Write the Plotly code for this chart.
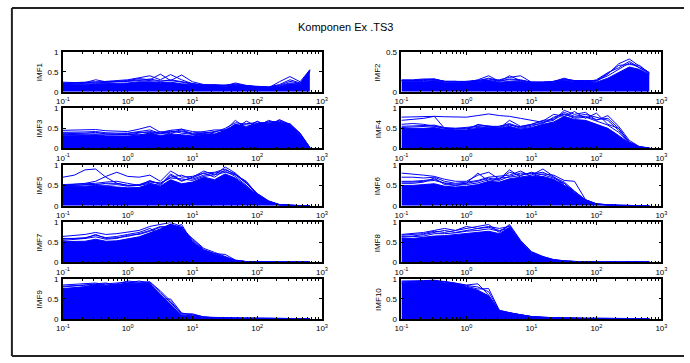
import plotly.graph_objects as go

# ---------------- data ----------------
freqs = [0.1, 0.15, 0.22, 0.32, 0.46, 0.68, 1.0, 1.5, 2.2, 3.2, 4.6, 6.8,
         10, 15, 22, 32, 46, 68, 100, 150, 220, 320, 460, 650]

x_tick_vals = [0.1, 1, 10, 100, 1000]
x_tick_text = ["10<sup>-1</sup>", "10<sup>0</sup>", "10<sup>1</sup>", "10<sup>2</sup>", "10<sup>3</sup>"]

imf_names = ["IMF1", "IMF2", "IMF3", "IMF4", "IMF5", "IMF6", "IMF7", "IMF8", "IMF9", "IMF10"]
y_max = [1, 0.5, 1, 1, 1, 1, 1, 1, 1, 1]

imf1_fill = [0.18, 0.18, 0.19, 0.2, 0.2, 0.21, 0.22, 0.25, 0.25, 0.23, 0.24, 0.2, 0.18, 0.15, 0.15, 0.14, 0.16, 0.14, 0.12, 0.11, 0.13, 0.2, 0.18, 0.55]
imf1_lines = [
    [0.22, 0.22, 0.23, 0.3, 0.25, 0.26, 0.28, 0.33, 0.3, 0.44, 0.28, 0.42, 0.25, 0.18, 0.16, 0.15, 0.22, 0.16, 0.12, 0.1, 0.25, 0.38, 0.25, 0.55],
    [0.2, 0.21, 0.22, 0.24, 0.26, 0.28, 0.3, 0.35, 0.4, 0.3, 0.43, 0.3, 0.2, 0.17, 0.16, 0.17, 0.18, 0.14, 0.13, 0.12, 0.18, 0.3, 0.22, 0.5],
    [0.24, 0.23, 0.24, 0.25, 0.24, 0.25, 0.27, 0.3, 0.28, 0.26, 0.3, 0.25, 0.2, 0.16, 0.18, 0.15, 0.2, 0.15, 0.12, 0.11, 0.15, 0.22, 0.2, 0.52],
    [0.21, 0.2, 0.21, 0.22, 0.23, 0.24, 0.26, 0.28, 0.32, 0.27, 0.28, 0.24, 0.19, 0.17, 0.16, 0.16, 0.17, 0.15, 0.13, 0.12, 0.16, 0.26, 0.21, 0.53],
]

imf2_fill = [0.13, 0.13, 0.13, 0.14, 0.12, 0.12, 0.12, 0.13, 0.14, 0.12, 0.13, 0.13, 0.11, 0.11, 0.12, 0.14, 0.13, 0.13, 0.12, 0.17, 0.24, 0.31, 0.28, 0.22]
imf2_lines = [
    [0.15, 0.15, 0.16, 0.16, 0.13, 0.13, 0.12, 0.15, 0.2, 0.13, 0.2, 0.14, 0.12, 0.12, 0.13, 0.17, 0.13, 0.14, 0.13, 0.22, 0.35, 0.41, 0.32, 0.24],
    [0.14, 0.14, 0.15, 0.15, 0.13, 0.12, 0.13, 0.14, 0.15, 0.15, 0.18, 0.2, 0.12, 0.11, 0.12, 0.15, 0.14, 0.12, 0.15, 0.24, 0.3, 0.38, 0.3, 0.23],
    [0.14, 0.14, 0.14, 0.15, 0.13, 0.13, 0.13, 0.14, 0.16, 0.13, 0.16, 0.15, 0.12, 0.12, 0.13, 0.16, 0.14, 0.14, 0.14, 0.2, 0.28, 0.36, 0.3, 0.24],
    [0.14, 0.14, 0.15, 0.16, 0.13, 0.13, 0.12, 0.14, 0.17, 0.14, 0.15, 0.14, 0.12, 0.12, 0.13, 0.15, 0.14, 0.13, 0.14, 0.23, 0.33, 0.34, 0.33, 0.23],
]

imf3_fill = [0.33, 0.32, 0.32, 0.34, 0.31, 0.31, 0.31, 0.33, 0.38, 0.32, 0.36, 0.34, 0.31, 0.34, 0.35, 0.44, 0.6, 0.53, 0.62, 0.63, 0.66, 0.57, 0.32, 0.0]
imf3_lines = [
    [0.45, 0.46, 0.46, 0.47, 0.44, 0.43, 0.42, 0.48, 0.55, 0.4, 0.45, 0.48, 0.42, 0.4, 0.36, 0.45, 0.7, 0.5, 0.68, 0.55, 0.72, 0.6, 0.35, 0.02],
    [0.38, 0.38, 0.38, 0.4, 0.36, 0.35, 0.34, 0.38, 0.42, 0.38, 0.44, 0.38, 0.35, 0.38, 0.42, 0.47, 0.5, 0.68, 0.55, 0.7, 0.62, 0.62, 0.38, 0.02],
    [0.35, 0.35, 0.34, 0.33, 0.33, 0.34, 0.35, 0.34, 0.36, 0.42, 0.36, 0.48, 0.34, 0.35, 0.33, 0.44, 0.6, 0.55, 0.62, 0.65, 0.68, 0.58, 0.32, 0.01],
    [0.36, 0.37, 0.36, 0.36, 0.35, 0.36, 0.37, 0.4, 0.4, 0.36, 0.4, 0.42, 0.36, 0.37, 0.4, 0.5, 0.64, 0.6, 0.66, 0.6, 0.7, 0.6, 0.36, 0.02],
    [0.4, 0.4, 0.41, 0.42, 0.39, 0.38, 0.38, 0.42, 0.46, 0.37, 0.42, 0.44, 0.38, 0.42, 0.46, 0.46, 0.55, 0.62, 0.6, 0.67, 0.65, 0.55, 0.37, 0.02],
]

imf4_fill = [0.5, 0.5, 0.5, 0.52, 0.47, 0.46, 0.46, 0.5, 0.52, 0.5, 0.55, 0.48, 0.52, 0.6, 0.66, 0.8, 0.72, 0.7, 0.6, 0.5, 0.32, 0.13, 0.03, 0.01]
imf4_lines = [
    [0.78, 0.79, 0.8, 0.8, 0.79, 0.78, 0.78, 0.82, 0.86, 0.82, 0.8, 0.75, 0.7, 0.65, 0.7, 0.95, 0.85, 0.9, 0.7, 0.82, 0.55, 0.2, 0.04, 0.01],
    [0.7, 0.72, 0.75, 0.8, 0.5, 0.45, 0.45, 0.6, 0.55, 0.5, 0.7, 0.55, 0.6, 0.68, 0.85, 0.8, 0.92, 0.75, 0.88, 0.6, 0.5, 0.15, 0.03, 0.01],
    [0.6, 0.62, 0.6, 0.55, 0.5, 0.5, 0.52, 0.55, 0.5, 0.55, 0.6, 0.5, 0.55, 0.65, 0.75, 0.9, 0.8, 0.85, 0.78, 0.7, 0.45, 0.12, 0.03, 0.01],
    [0.55, 0.56, 0.57, 0.58, 0.52, 0.5, 0.5, 0.58, 0.56, 0.52, 0.58, 0.54, 0.6, 0.7, 0.72, 0.85, 0.78, 0.8, 0.72, 0.75, 0.5, 0.16, 0.04, 0.01],
    [0.52, 0.53, 0.55, 0.56, 0.5, 0.48, 0.49, 0.52, 0.55, 0.55, 0.62, 0.52, 0.58, 0.62, 0.78, 0.86, 0.75, 0.78, 0.68, 0.58, 0.4, 0.14, 0.03, 0.01],
]

imf5_fill = [0.47, 0.47, 0.48, 0.5, 0.48, 0.46, 0.44, 0.45, 0.54, 0.48, 0.64, 0.54, 0.58, 0.7, 0.64, 0.78, 0.68, 0.48, 0.27, 0.11, 0.03, 0.01, 0.005, 0.005]
imf5_lines = [
    [0.7, 0.75, 0.88, 0.9, 0.7, 0.55, 0.5, 0.5, 0.55, 0.5, 0.75, 0.6, 0.7, 0.85, 0.75, 0.95, 0.8, 0.55, 0.3, 0.12, 0.03, 0.01, 0.005, 0.005],
    [0.5, 0.52, 0.55, 0.6, 0.72, 0.82, 0.72, 0.7, 0.75, 0.6, 0.85, 0.7, 0.72, 0.8, 0.82, 0.9, 0.75, 0.6, 0.28, 0.1, 0.03, 0.01, 0.005, 0.005],
    [0.5, 0.5, 0.52, 0.52, 0.55, 0.55, 0.5, 0.52, 0.6, 0.55, 0.7, 0.75, 0.65, 0.75, 0.8, 0.85, 0.72, 0.5, 0.25, 0.08, 0.02, 0.01, 0.005, 0.005],
    [0.52, 0.53, 0.53, 0.55, 0.58, 0.6, 0.55, 0.5, 0.62, 0.52, 0.78, 0.62, 0.68, 0.8, 0.7, 0.88, 0.78, 0.58, 0.3, 0.12, 0.03, 0.01, 0.005, 0.005],
    [0.49, 0.5, 0.5, 0.52, 0.5, 0.52, 0.48, 0.5, 0.58, 0.56, 0.68, 0.66, 0.62, 0.72, 0.76, 0.82, 0.76, 0.55, 0.28, 0.1, 0.03, 0.01, 0.005, 0.005],
]

imf6_fill = [0.5, 0.5, 0.52, 0.54, 0.48, 0.46, 0.48, 0.52, 0.6, 0.58, 0.66, 0.7, 0.72, 0.72, 0.65, 0.5, 0.32, 0.13, 0.04, 0.02, 0.01, 0.01, 0.005, 0.005]
imf6_lines = [
    [0.8, 0.78, 0.75, 0.72, 0.65, 0.6, 0.6, 0.75, 0.82, 0.65, 0.88, 0.7, 0.75, 0.9, 0.72, 0.5, 0.35, 0.15, 0.05, 0.02, 0.01, 0.01, 0.005, 0.005],
    [0.7, 0.7, 0.68, 0.7, 0.6, 0.55, 0.58, 0.62, 0.7, 0.72, 0.75, 0.85, 0.72, 0.78, 0.75, 0.62, 0.6, 0.15, 0.05, 0.02, 0.01, 0.01, 0.005, 0.005],
    [0.6, 0.6, 0.62, 0.65, 0.55, 0.5, 0.55, 0.8, 0.6, 0.65, 0.82, 0.75, 0.8, 0.7, 0.6, 0.55, 0.3, 0.12, 0.04, 0.02, 0.01, 0.01, 0.005, 0.005],
    [0.58, 0.58, 0.6, 0.62, 0.56, 0.53, 0.55, 0.6, 0.68, 0.62, 0.72, 0.8, 0.78, 0.82, 0.7, 0.58, 0.36, 0.14, 0.05, 0.02, 0.01, 0.01, 0.005, 0.005],
    [0.55, 0.55, 0.58, 0.68, 0.52, 0.5, 0.52, 0.56, 0.64, 0.68, 0.7, 0.74, 0.82, 0.76, 0.68, 0.55, 0.34, 0.14, 0.04, 0.02, 0.01, 0.01, 0.005, 0.005],
]

imf7_fill = [0.52, 0.52, 0.53, 0.58, 0.53, 0.54, 0.58, 0.64, 0.74, 0.84, 0.96, 0.87, 0.52, 0.3, 0.19, 0.11, 0.04, 0.015, 0.01, 0.01, 0.01, 0.01, 0.01, 0.01]
imf7_lines = [
    [0.65, 0.68, 0.7, 0.75, 0.7, 0.72, 0.75, 0.8, 0.9, 0.95, 1.0, 0.9, 0.55, 0.3, 0.22, 0.2, 0.06, 0.02, 0.01, 0.01, 0.01, 0.01, 0.01, 0.01],
    [0.6, 0.6, 0.62, 0.68, 0.62, 0.65, 0.7, 0.75, 0.85, 0.7, 0.95, 0.8, 0.6, 0.35, 0.25, 0.15, 0.05, 0.02, 0.01, 0.01, 0.01, 0.01, 0.01, 0.01],
    [0.55, 0.58, 0.6, 0.7, 0.6, 0.62, 0.65, 0.72, 0.8, 0.9, 0.85, 0.95, 0.5, 0.28, 0.2, 0.12, 0.05, 0.02, 0.01, 0.01, 0.01, 0.01, 0.01, 0.01],
    [0.58, 0.6, 0.6, 0.64, 0.58, 0.6, 0.68, 0.7, 0.78, 0.88, 0.92, 0.88, 0.58, 0.32, 0.22, 0.13, 0.05, 0.02, 0.01, 0.01, 0.01, 0.01, 0.01, 0.01],
]

imf8_fill = [0.6, 0.6, 0.63, 0.66, 0.67, 0.7, 0.72, 0.75, 0.78, 0.72, 0.88, 0.52, 0.23, 0.12, 0.06, 0.03, 0.015, 0.01, 0.01, 0.01, 0.01, 0.01, 0.01, 0.01]
imf8_lines = [
    [0.7, 0.72, 0.75, 0.8, 0.85, 0.8, 0.85, 0.9, 0.95, 0.75, 0.95, 0.55, 0.27, 0.15, 0.07, 0.04, 0.02, 0.01, 0.01, 0.01, 0.01, 0.01, 0.01, 0.01],
    [0.68, 0.7, 0.72, 0.78, 0.75, 0.8, 0.9, 0.85, 0.9, 0.85, 0.9, 0.5, 0.25, 0.13, 0.06, 0.03, 0.02, 0.01, 0.01, 0.01, 0.01, 0.01, 0.01, 0.01],
    [0.65, 0.66, 0.7, 0.75, 0.8, 0.75, 0.8, 0.85, 0.88, 0.8, 0.85, 0.45, 0.22, 0.12, 0.06, 0.03, 0.02, 0.01, 0.01, 0.01, 0.01, 0.01, 0.01, 0.01],
    [0.63, 0.64, 0.66, 0.72, 0.72, 0.74, 0.78, 0.8, 0.84, 0.78, 0.92, 0.54, 0.26, 0.14, 0.07, 0.04, 0.02, 0.01, 0.01, 0.01, 0.01, 0.01, 0.01, 0.01],
]

imf9_fill = [0.76, 0.79, 0.81, 0.86, 0.84, 0.86, 0.9, 0.89, 0.89, 0.62, 0.37, 0.1, 0.08, 0.04, 0.03, 0.02, 0.02, 0.02, 0.015, 0.015, 0.015, 0.01, 0.01, 0.01]
imf9_lines = [
    [0.85, 0.87, 0.88, 0.9, 0.85, 0.88, 0.95, 0.92, 0.93, 0.7, 0.45, 0.12, 0.13, 0.05, 0.04, 0.03, 0.02, 0.02, 0.015, 0.015, 0.015, 0.01, 0.01, 0.01],
    [0.8, 0.82, 0.85, 0.88, 0.9, 0.85, 0.9, 0.95, 0.9, 0.5, 0.5, 0.15, 0.1, 0.05, 0.03, 0.02, 0.02, 0.02, 0.015, 0.015, 0.015, 0.01, 0.01, 0.01],
    [0.82, 0.83, 0.84, 0.86, 0.88, 0.9, 0.92, 0.9, 0.92, 0.66, 0.42, 0.14, 0.11, 0.05, 0.03, 0.02, 0.02, 0.02, 0.015, 0.015, 0.015, 0.01, 0.01, 0.01],
]

imf10_fill = [0.9, 0.92, 0.93, 0.95, 0.9, 0.88, 0.8, 0.72, 0.58, 0.2, 0.15, 0.1, 0.06, 0.04, 0.03, 0.02, 0.02, 0.015, 0.015, 0.01, 0.01, 0.01, 0.01, 0.01]
imf10_lines = [
    [0.95, 0.95, 0.96, 0.97, 0.93, 0.9, 0.85, 0.88, 0.6, 0.2, 0.15, 0.1, 0.06, 0.04, 0.03, 0.02, 0.02, 0.015, 0.015, 0.01, 0.01, 0.01, 0.01, 0.01],
    [0.92, 0.93, 0.95, 0.96, 0.92, 0.88, 0.82, 0.75, 0.76, 0.22, 0.16, 0.1, 0.06, 0.04, 0.03, 0.02, 0.02, 0.015, 0.015, 0.01, 0.01, 0.01, 0.01, 0.01],
    [0.93, 0.94, 0.94, 0.95, 0.94, 0.9, 0.84, 0.8, 0.68, 0.21, 0.15, 0.1, 0.06, 0.04, 0.03, 0.02, 0.02, 0.015, 0.015, 0.01, 0.01, 0.01, 0.01, 0.01],
]

fills = [imf1_fill, imf2_fill, imf3_fill, imf4_fill, imf5_fill,
         imf6_fill, imf7_fill, imf8_fill, imf9_fill, imf10_fill]
lines = [imf1_lines, imf2_lines, imf3_lines, imf4_lines, imf5_lines,
         imf6_lines, imf7_lines, imf8_lines, imf9_lines, imf10_lines]

# ---------------- layout ----------------
W, H = 690, 363
col_px = [(57, 321), (402, 667)]
row_px = [(49, 90), (107, 148), (165, 207), (224, 265), (282, 323)]
BLUE = "#0000FF"
FONT = "Liberation Sans, Arial, sans-serif"

fig = go.Figure()
layout = dict(width=W, height=H, margin=dict(l=0, r=0, t=0, b=0),
              paper_bgcolor="white", plot_bgcolor="white",
              showlegend=False, font=dict(family=FONT, size=8, color="black"))
annotations = []

for k in range(10):
    r, c = k // 2, k % 2
    n = k + 1
    xa = "xaxis" if n == 1 else f"xaxis{n}"
    ya = "yaxis" if n == 1 else f"yaxis{n}"
    xr = "x" if n == 1 else f"x{n}"
    yr = "y" if n == 1 else f"y{n}"
    x0, x1 = col_px[c]
    y0, y1 = row_px[r]
    layout[xa] = dict(
        type="log", range=[-1, 3], domain=[x0 / W, x1 / W], anchor=yr,
        tickvals=x_tick_vals, ticktext=x_tick_text, ticks="inside", ticklen=3,
        tickcolor="black", showline=True, linecolor="black", linewidth=1.5,
        mirror="allticks", showgrid=False, zeroline=False,
        tickfont=dict(size=8), ticklabelstandoff=1,
        minor=dict(ticks="inside", ticklen=2, tickcolor="black", dtick="D1", showgrid=False),
    )
    ym = y_max[k]
    layout[ya] = dict(
        range=[0, ym], domain=[1 - y1 / H, 1 - y0 / H], anchor=xr,
        tickvals=[0, ym / 2, ym] if ym == 1 else [0, ym],
        ticktext=["0", "0.5", "1"] if ym == 1 else ["0", "0.5"],
        ticks="inside", ticklen=3, tickcolor="black", showline=True,
        linecolor="black", linewidth=1.5, mirror="allticks", showgrid=False,
        zeroline=False, tickfont=dict(size=8), ticklabelstandoff=1,
    )
    fig.add_trace(go.Scatter(x=freqs, y=fills[k], mode="lines", fill="tozeroy",
                             fillcolor=BLUE, line=dict(color=BLUE, width=1),
                             xaxis=xr, yaxis=yr, hoverinfo="skip"))
    for ln in lines[k]:
        fig.add_trace(go.Scatter(x=freqs, y=ln, mode="lines",
                                 line=dict(color=BLUE, width=1),
                                 xaxis=xr, yaxis=yr, hoverinfo="skip"))
    annotations.append(dict(
        text=imf_names[k], textangle=-90, xref="paper", yref="paper",
        x=(x0 - 24) / W, y=1 - (y0 + y1) / 2 / H, showarrow=False,
        xanchor="center", yanchor="middle", font=dict(size=8)))

annotations.append(dict(text="Komponen Ex .TS3", xref="paper", yref="paper",
                        x=0.5, y=1 - 24 / H, showarrow=False, xanchor="center",
                        yanchor="middle", font=dict(size=11)))
layout["annotations"] = annotations
frame = dict(xref="paper", yref="paper", type="line",
             line=dict(color="#222222", width=2))
layout["shapes"] = [
    dict(frame, x0=5 / W, x1=1.0, y0=1 - 4 / H, y1=1 - 4 / H),
    dict(frame, x0=5 / W, x1=5 / W, y0=1 - 4 / H, y1=1 - 361 / H),
    dict(frame, x0=5 / W, x1=1.0, y0=1 - 361 / H, y1=1 - 361 / H),
]
fig.update_layout(**layout)
fig.write_html("out.html")
